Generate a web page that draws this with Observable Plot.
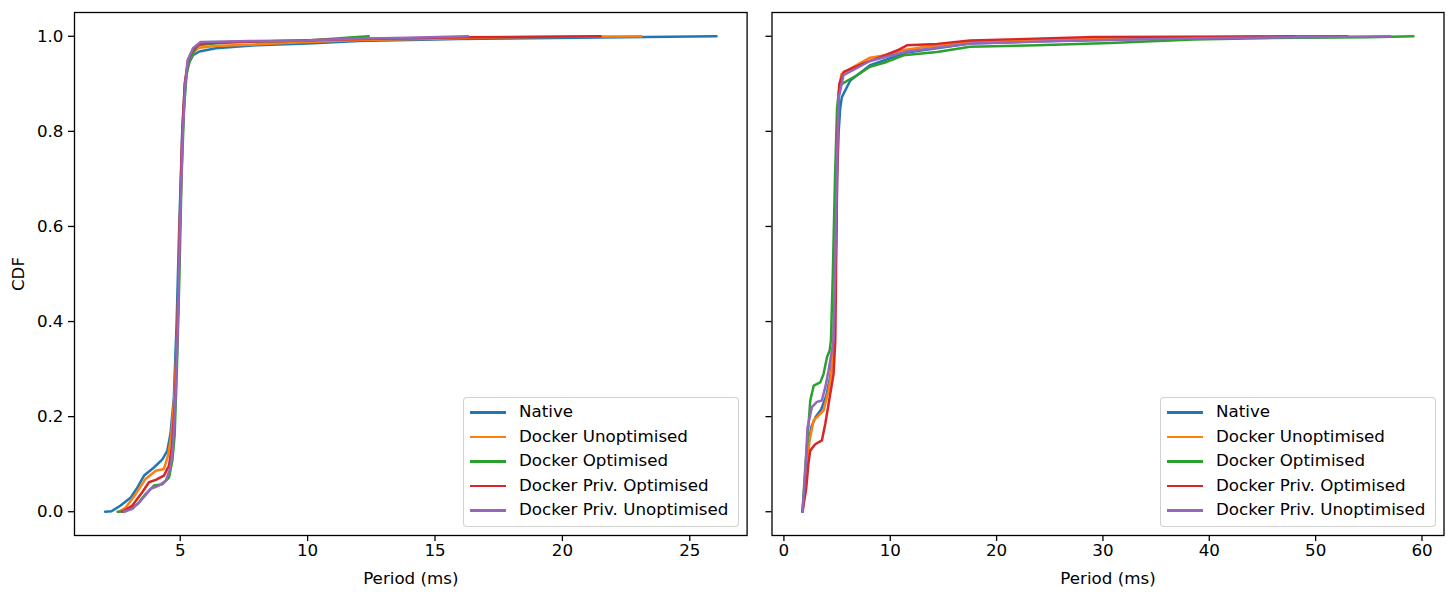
<!DOCTYPE html>
<html>
<head>
<meta charset="utf-8">
<script src="https://cdn.jsdelivr.net/npm/d3@7"></script>
<script src="https://cdn.jsdelivr.net/npm/@observablehq/plot@0.6"></script>
<style>
  html, body { margin: 0; padding: 0; background: #fff; }
  #fig { position: relative; width: 1456px; height: 598px; background: #fff; font-family: "DejaVu Sans", sans-serif; }
  .panel { position: absolute; top: 0; }
  .legend { position: absolute; box-sizing: border-box; border: 1px solid rgba(204,204,204,0.9); border-radius: 4px; background: rgba(255,255,255,0.8); }
  .legend .row { position: absolute; left: 0; height: 20px; line-height: 20px; font-size: 16.7px; color: #000; white-space: nowrap; }
  .legend .swatch { position: absolute; top: 9px; height: 2.5px; }
  .legend .lbl { position: absolute; top: -1px; }
</style>
</head>
<body>
<div id="fig"></div>
<script>
// ---- series names and colours ----
const seriesNames = ["Native", "Docker Unoptimised", "Docker Optimised", "Docker Priv. Optimised", "Docker Priv. Unoptimised"];
const seriesColors = ["#1f77b4", "#ff7f0e", "#2ca02c", "#d62728", "#9467bd"];

// ---- tick labels ----
const leftXTicks = [5, 10, 15, 20, 25];
const rightXTicks = [0, 10, 20, 30, 40, 50, 60];
const yTicks = [0, 0.2, 0.4, 0.6, 0.8, 1.0];

// ---- left panel CDF points [period ms, cdf] ----
const leftNative = [[2.05,0],[2.3,0.001],[2.66,0.013],[3.06,0.03],[3.32,0.051],[3.58,0.076],[3.97,0.093],[4.3,0.11],[4.49,0.128],[4.62,0.165],[4.75,0.24],[4.86,0.4],[4.96,0.6],[5.08,0.8],[5.18,0.9],[5.3,0.94],[5.5,0.96],[5.75,0.968],[6.4,0.975],[8,0.981],[10,0.985],[12,0.99],[14,0.992],[15.9,0.994],[26.05,1.0]];
const leftDockerUnopt = [[2.6,0],[2.86,0.009],[3.25,0.037],[3.64,0.069],[4.04,0.086],[4.36,0.09],[4.52,0.118],[4.65,0.16],[4.78,0.25],[4.9,0.4],[4.98,0.6],[5.1,0.8],[5.2,0.9],[5.32,0.945],[5.5,0.965],[5.73,0.976],[6.5,0.98],[8,0.983],[10,0.988],[12,0.992],[15,0.995],[16.3,0.997],[23.1,1.0]];
const leftDockerOpt = [[2.54,0],[2.86,0.001],[3.32,0.016],[3.64,0.037],[3.97,0.055],[4.3,0.058],[4.56,0.072],[4.69,0.107],[4.78,0.16],[4.87,0.3],[4.97,0.5],[5.05,0.7],[5.15,0.85],[5.25,0.92],[5.4,0.955],[5.67,0.981],[6.5,0.986],[8,0.989],[10,0.991],[11,0.995],[11.8,0.998],[12.4,1.0]];
const leftPrivOpt = [[2.73,0],[3.12,0.013],[3.51,0.041],[3.77,0.062],[4.04,0.067],[4.36,0.076],[4.56,0.097],[4.68,0.14],[4.8,0.24],[4.9,0.4],[4.98,0.6],[5.08,0.8],[5.18,0.9],[5.3,0.95],[5.5,0.972],[5.8,0.985],[7,0.988],[9,0.99],[11,0.993],[14,0.996],[16,0.998],[21.5,1.0]];
const leftPrivUnopt = [[2.79,0],[3.12,0.006],[3.45,0.023],[3.84,0.048],[4.17,0.055],[4.43,0.065],[4.62,0.093],[4.71,0.135],[4.8,0.22],[4.9,0.38],[4.99,0.6],[5.1,0.8],[5.2,0.9],[5.3,0.95],[5.5,0.975],[5.8,0.988],[7.76,0.99],[10,0.991],[11.7,0.995],[14,0.997],[16.3,1.0]];

// ---- right panel CDF points [period ms, cdf] ----
const rightNative = [[1.75,0],[2.0,0.06],[2.3,0.14],[2.6,0.18],[3.0,0.2],[3.5,0.215],[4.0,0.245],[4.4,0.29],[4.65,0.35],[4.85,0.5],[5.0,0.7],[5.15,0.8],[5.3,0.85],[5.45,0.872],[6.24,0.907],[8.1,0.939],[11.57,0.966],[17.5,0.985],[25,0.99],[35,0.995],[48,1.0]];
const rightDockerUnopt = [[1.75,0],[2.0,0.06],[2.41,0.15],[2.79,0.192],[3.26,0.202],[3.73,0.213],[4.2,0.255],[4.45,0.29],[4.67,0.36],[4.85,0.55],[5.0,0.75],[5.15,0.88],[5.4,0.92],[6.5,0.935],[8.1,0.955],[9.5,0.96],[11,0.97],[13,0.977],[17,0.987],[25,0.992],[35,0.996],[45,1.0]];
const rightDockerOpt = [[1.75,0],[2.0,0.09],[2.32,0.185],[2.48,0.234],[2.8,0.265],[3.42,0.272],[3.73,0.29],[4.05,0.325],[4.3,0.339],[4.42,0.36],[4.6,0.5],[4.8,0.7],[5.0,0.85],[5.2,0.89],[5.45,0.9],[6.87,0.918],[8.1,0.936],[9.67,0.946],[11.25,0.96],[14.4,0.967],[17.5,0.978],[23.8,0.981],[30.7,0.986],[38.5,0.993],[45,0.996],[55,0.998],[59.2,1.0]];
const rightPrivOpt = [[1.75,0],[2.1,0.05],[2.3,0.1],[2.47,0.128],[2.94,0.142],[3.57,0.15],[3.89,0.185],[4.36,0.248],[4.67,0.29],[4.83,0.36],[4.95,0.6],[5.05,0.8],[5.2,0.9],[5.62,0.925],[7.49,0.943],[9.06,0.956],[10.63,0.97],[11.57,0.981],[14.4,0.984],[17.5,0.991],[22,0.994],[29.1,0.9986],[53,1.0]];
const rightPrivUnopt = [[1.75,0],[2.0,0.08],[2.22,0.177],[2.63,0.22],[3.1,0.231],[3.57,0.234],[3.89,0.262],[4.2,0.297],[4.51,0.339],[4.67,0.36],[4.85,0.55],[5.0,0.75],[5.15,0.87],[5.6,0.918],[8.1,0.948],[11.57,0.968],[17.5,0.985],[26,0.99],[38.5,0.996],[57,1.0]];

const leftSeries = [leftNative, leftDockerUnopt, leftDockerOpt, leftPrivOpt, leftPrivUnopt];
const rightSeries = [rightNative, rightDockerUnopt, rightDockerOpt, rightPrivOpt, rightPrivUnopt];

function toRows(seriesList) {
  const rows = [];
  seriesList.forEach((pts, i) => pts.forEach(([x, y]) => rows.push({series: seriesNames[i], x, y})));
  return rows;
}

const fontStyle = {fontFamily: "DejaVu Sans, sans-serif", fontSize: "16.7px", background: "white", color: "black", overflow: "visible"};

function panel({rows, width, marginLeft, marginRight, xDomain, xTicks, showYLabels}) {
  return Plot.plot({
    width, height: 598,
    marginLeft, marginRight, marginTop: 12, marginBottom: 63,
    style: fontStyle,
    x: {domain: xDomain},
    y: {domain: [-0.05, 1.05]},
    color: {domain: seriesNames, range: seriesColors},
    marks: [
      Plot.line(rows, {x: "x", y: "y", z: "series", stroke: "series", strokeWidth: 2.5, curve: "linear"}),
      Plot.frame({stroke: "black", strokeWidth: 1.3}),
      Plot.axisX({ticks: xTicks, tickSize: 6, tickPadding: 3, strokeWidth: 1.3, label: "Period (ms)", labelAnchor: "center", labelArrow: "none", labelOffset: 48, fontSize: 16.7}),
      showYLabels
        ? Plot.axisY({ticks: yTicks, tickSize: 6, tickPadding: 5, strokeWidth: 1.3, tickFormat: d3.format(".1f"), label: "CDF", labelAnchor: "center", labelArrow: "none", labelOffset: 62, fontSize: 16.7})
        : Plot.axisY({ticks: yTicks, tickSize: 6, strokeWidth: 1.3, tickFormat: () => "", label: null})
    ]
  });
}

const fig = document.getElementById("fig");

function place(node, left, width) {
  const d = document.createElement("div");
  d.className = "panel";
  d.style.left = left + "px";
  d.style.width = width + "px";
  d.appendChild(node);
  fig.appendChild(d);
}

place(panel({rows: toRows(leftSeries), width: 760, marginLeft: 74, marginRight: 13.4, xDomain: [0.85, 27.25], xTicks: leftXTicks, showYLabels: true}), 0, 760);
place(panel({rows: toRows(rightSeries), width: 696, marginLeft: 11.5, marginRight: 12.5, xDomain: [-1.12, 62.07], xTicks: rightXTicks, showYLabels: false}), 760, 696);

function legend(left, top) {
  const box = document.createElement("div");
  box.className = "legend";
  box.style.left = left + "px";
  box.style.top = top + "px";
  box.style.width = "276px";
  box.style.height = "130px";
  seriesNames.forEach((name, i) => {
    const row = document.createElement("div");
    row.className = "row";
    row.style.top = (4 + i * 24.5) + "px";
    const sw = document.createElement("div");
    sw.className = "swatch";
    sw.style.left = "6px";
    sw.style.width = "36px";
    sw.style.background = seriesColors[i];
    const lbl = document.createElement("span");
    lbl.className = "lbl";
    lbl.style.left = "55px";
    lbl.textContent = name;
    row.appendChild(sw);
    row.appendChild(lbl);
    box.appendChild(row);
  });
  fig.appendChild(box);
}
legend(463, 397);
legend(1160, 397);
</script>
</body>
</html>
